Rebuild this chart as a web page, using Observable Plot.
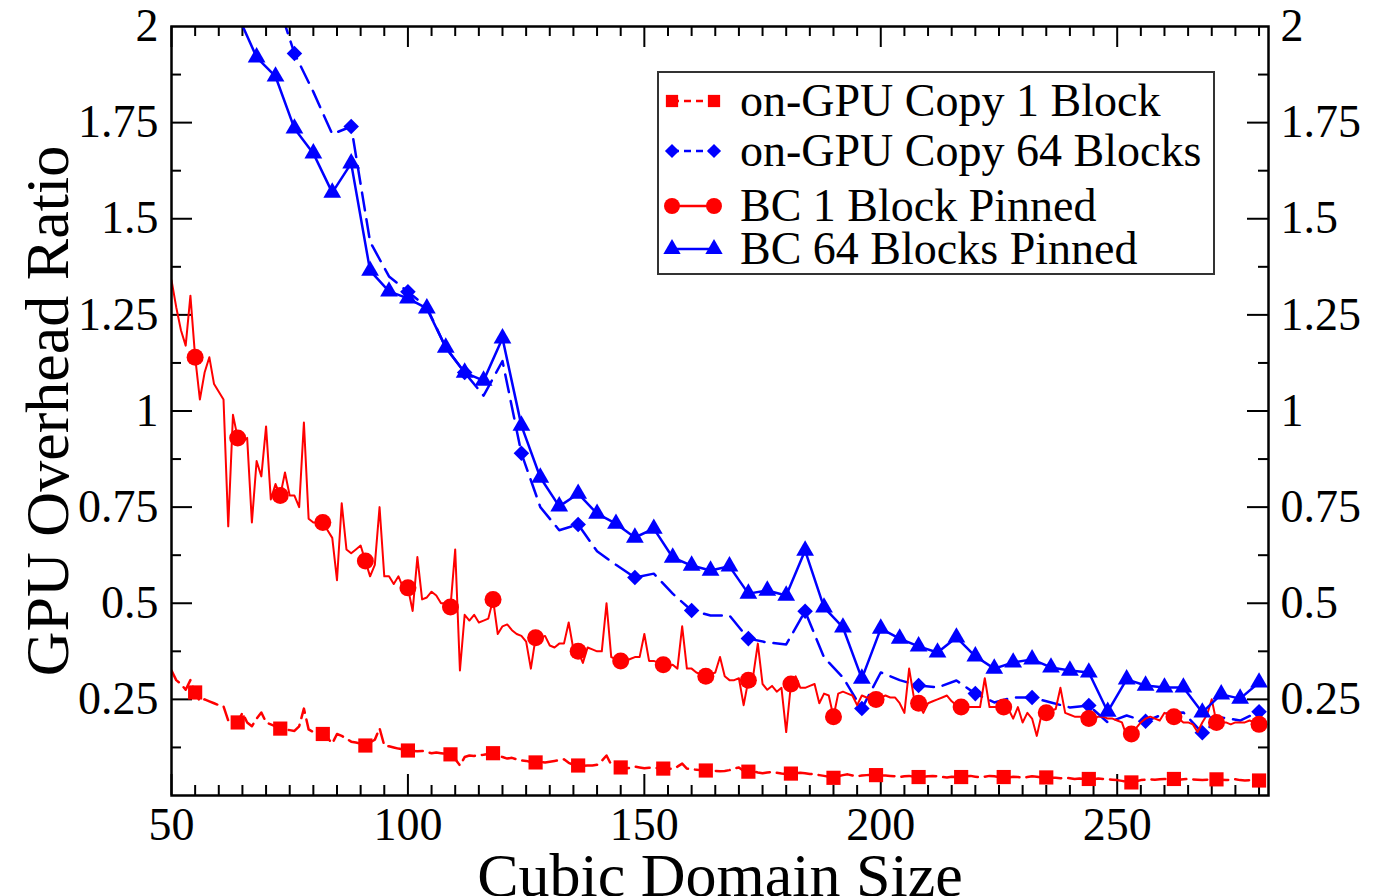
<!DOCTYPE html>
<html>
<head>
<meta charset="utf-8">
<script src="https://cdn.jsdelivr.net/npm/d3@7"></script>
<script src="https://cdn.jsdelivr.net/npm/@observablehq/plot@0.6"></script>
<style>
  html, body { margin: 0; padding: 0; background: #fff; }
  #chart { position: relative; width: 1378px; height: 896px; overflow: hidden; }
  #legend {
    position: absolute; left: 657px; top: 71px; width: 558px; height: 204px;
    box-sizing: border-box; border: 2px solid #333; background: #fff;
    font-family: "Liberation Serif", "DejaVu Serif", serif; font-size: 46px; color: #000;
  }
  #legend .row { position: absolute; left: 0; height: 40px; width: 100%; }
  #legend .row svg { position: absolute; left: 0; top: -5px; }
  #legend .row span { position: absolute; left: 81px; top: 0; white-space: nowrap; line-height: 40px; height: 40px; }
</style>
</head>
<body>
<div id="chart"></div>
<script>
// Cubic domain sizes (edge length) sampled for the single-block runs
const firstSize = 50;
const lastSize = 281;
const denseSizes = d3.range(firstSize, lastSize + 1);

// on-GPU Copy 1 Block: overhead ratio at each domain size 50..281
const copy1Block = [
  0.325, 0.30, 0.29, 0.275, 0.30, 0.268, 0.245, 0.25, 0.245, 0.24,
  0.235, 0.232, 0.195, 0.20, 0.19, 0.215, 0.19, 0.18, 0.20, 0.216,
  0.19, 0.185, 0.18, 0.174, 0.172, 0.17, 0.168, 0.18, 0.226, 0.172,
  0.165, 0.162, 0.16, 0.15, 0.135, 0.16, 0.155, 0.148, 0.14, 0.138,
  0.135, 0.13, 0.138, 0.145, 0.175, 0.13, 0.128, 0.125, 0.122, 0.12,
  0.117, 0.116, 0.115, 0.116, 0.113, 0.11, 0.112, 0.11, 0.108, 0.107,
  0.095, 0.078, 0.10, 0.104, 0.103, 0.105, 0.106, 0.108, 0.11, 0.104,
  0.10, 0.096, 0.098, 0.094, 0.091, 0.09, 0.087, 0.086, 0.087, 0.086,
  0.088, 0.09, 0.092, 0.094, 0.085, 0.08, 0.078, 0.077, 0.078, 0.078,
  0.08, 0.09, 0.104, 0.08, 0.074, 0.073, 0.07, 0.072, 0.075, 0.073,
  0.071, 0.072, 0.072, 0.071, 0.07, 0.07, 0.069, 0.075, 0.083, 0.07,
  0.068, 0.067, 0.066, 0.065, 0.066, 0.064, 0.063, 0.064, 0.066, 0.07,
  0.073, 0.064, 0.062, 0.063, 0.06, 0.058, 0.06, 0.061, 0.059, 0.057,
  0.056, 0.057, 0.058, 0.059, 0.058, 0.056, 0.055, 0.053, 0.051, 0.049,
  0.046, 0.05, 0.053, 0.055, 0.052, 0.05, 0.052, 0.053, 0.054, 0.053,
  0.052, 0.052, 0.051, 0.05, 0.048, 0.05, 0.051, 0.049, 0.048, 0.049,
  0.05, 0.051, 0.05, 0.048, 0.047, 0.049, 0.048, 0.048, 0.05, 0.051,
  0.049, 0.047, 0.049, 0.051, 0.05, 0.048, 0.048, 0.047, 0.049, 0.048,
  0.046, 0.048, 0.05, 0.049, 0.047, 0.047, 0.046, 0.046, 0.045, 0.046,
  0.045, 0.043, 0.044, 0.043, 0.043, 0.042, 0.044, 0.043, 0.042, 0.041,
  0.04, 0.038, 0.036, 0.034, 0.037, 0.04, 0.041, 0.042, 0.041, 0.042,
  0.043, 0.043, 0.043, 0.041, 0.042, 0.043, 0.042, 0.041, 0.04, 0.041,
  0.042, 0.042, 0.041, 0.04, 0.041, 0.042, 0.04, 0.039, 0.04, 0.039,
  0.039, 0.04
];

// BC 1 Block Pinned: overhead ratio at each domain size 50..281
const bc1Block = [
  1.34, 1.27, 1.21, 1.17, 1.30, 1.14, 1.03, 1.10, 1.14, 1.07,
  1.05, 1.03, 0.70, 0.99, 0.93, 0.92, 0.93, 0.71, 0.87, 0.83,
  0.96, 0.77, 0.81, 0.78, 0.84, 0.78, 0.78, 0.75, 0.97, 0.72,
  0.71, 0.71, 0.71, 0.69, 0.67, 0.56, 0.76, 0.64, 0.63, 0.64,
  0.65, 0.61, 0.57, 0.60, 0.75, 0.57, 0.57, 0.55, 0.57, 0.54,
  0.54, 0.48, 0.62, 0.51, 0.515, 0.53, 0.52, 0.50, 0.50, 0.49,
  0.64, 0.325, 0.47, 0.455, 0.47, 0.45, 0.455, 0.46, 0.51, 0.42,
  0.44, 0.445, 0.43, 0.42, 0.415, 0.40, 0.33, 0.41, 0.41, 0.415,
  0.39, 0.385, 0.395, 0.395, 0.45, 0.38, 0.375, 0.345, 0.385, 0.38,
  0.375, 0.375, 0.50, 0.36, 0.355, 0.35, 0.35, 0.355, 0.36, 0.36,
  0.42, 0.35, 0.35, 0.345, 0.34, 0.335, 0.34, 0.33, 0.44, 0.33,
  0.33, 0.32, 0.315, 0.31, 0.315, 0.32, 0.36, 0.31, 0.30, 0.30,
  0.305, 0.235, 0.30, 0.31, 0.395, 0.29, 0.275, 0.285, 0.27, 0.28,
  0.165, 0.29, 0.31, 0.28, 0.28, 0.285, 0.29, 0.24, 0.265, 0.26,
  0.205, 0.265, 0.27, 0.265, 0.26, 0.235, 0.26, 0.255, 0.255, 0.25,
  0.255, 0.26, 0.255, 0.255, 0.24, 0.215, 0.33, 0.255, 0.24, 0.215,
  0.24, 0.245, 0.25, 0.255, 0.26, 0.245, 0.235, 0.23, 0.23, 0.23,
  0.23, 0.23, 0.305, 0.23, 0.23, 0.23, 0.23, 0.225, 0.20, 0.23,
  0.19, 0.215, 0.20, 0.155, 0.21, 0.215, 0.22, 0.225, 0.28, 0.215,
  0.21, 0.205, 0.205, 0.205, 0.20, 0.20, 0.205, 0.205, 0.20, 0.20,
  0.195, 0.19, 0.155, 0.16, 0.175, 0.19, 0.20, 0.205, 0.20, 0.195,
  0.215, 0.21, 0.205, 0.20, 0.19, 0.19, 0.185, 0.165, 0.19, 0.21,
  0.25, 0.19, 0.19, 0.19, 0.185, 0.19, 0.19, 0.19, 0.195, 0.19,
  0.185, 0.19
];

// on-GPU Copy 64 Blocks, measured every 4 sizes from 68
const copy64Sizes = d3.range(68, 281, 4);
const copy64Blocks = [
  2.30, 2.08, 1.93, 1.83, 1.72, 1.74, 1.44, 1.35, 1.31, 1.27,
  1.165, 1.10, 1.04, 1.13, 0.89, 0.75, 0.69, 0.705, 0.635, 0.60,
  0.567, 0.577, 0.525, 0.481, 0.468, 0.468, 0.408, 0.398, 0.393, 0.479,
  0.359, 0.307, 0.226, 0.32, 0.30, 0.286, 0.281, 0.299, 0.265, 0.242,
  0.255, 0.255, 0.242, 0.229, 0.234, 0.19, 0.208, 0.193, 0.213, 0.216,
  0.163, 0.203, 0.195, 0.218
];

// BC 64 Blocks Pinned, measured every 4 sizes from 60
const bc64Sizes = d3.range(60, 281, 4);
const bc64Blocks = [
  2.25, 2.03, 1.92, 1.87, 1.735, 1.67, 1.568, 1.644, 1.365, 1.311,
  1.293, 1.267, 1.165, 1.10, 1.079, 1.189, 0.962, 0.827, 0.752, 0.785,
  0.733, 0.707, 0.671, 0.694, 0.619, 0.598, 0.585, 0.596, 0.525, 0.533,
  0.520, 0.637, 0.489, 0.437, 0.304, 0.434, 0.408, 0.388, 0.372, 0.411,
  0.362, 0.330, 0.346, 0.354, 0.333, 0.325, 0.320, 0.218, 0.302, 0.286,
  0.281, 0.281, 0.216, 0.263, 0.252, 0.294
];

const seriesNames = ["on-GPU Copy 1 Block", "on-GPU Copy 64 Blocks", "BC 1 Block Pinned", "BC 64 Blocks Pinned"];
const xMajorTicks = [50, 100, 150, 200, 250];
const xMinorTicks = d3.range(55, 281, 5).filter(v => v % 50 !== 0);
const yMajorTicks = [0.25, 0.5, 0.75, 1, 1.25, 1.5, 1.75];
const yMinorTicks = [0.125, 0.375, 0.625, 0.875, 1.125, 1.375, 1.625, 1.875];
const yTickLabels = [0.25, 0.5, 0.75, 1, 1.25, 1.5, 1.75, 2];

const RED = "#ff0000", BLUE = "#0000ff";
const SERIF = "'Liberation Serif', 'DejaVu Serif', serif";

const zip = (xs, ys) => xs.map((x, i) => ({x, y: ys[i]}));
const copy1 = zip(denseSizes, copy1Block);
const bc1 = zip(denseSizes, bc1Block);
const copy64 = zip(copy64Sizes, copy64Blocks);
const bc64 = zip(bc64Sizes, bc64Blocks);

// symbols only on every 9th sample for the dense series, every 3rd for copy64
const inView = d => d.y <= 2;
const copy1Marks = copy1.filter(d => (d.x - 55) % 9 === 0 && inView(d));
const bc1Marks = bc1.filter(d => (d.x - 55) % 9 === 0 && inView(d));
const copy64Marks = copy64.filter(d => (d.x - 76) % 12 === 0 && inView(d));
const bc64Marks = bc64.filter(inView);

const W = 1378, H = 896;
const M = {left: 171, right: 110, top: 26, bottom: 101};
const frameW = W - M.left - M.right;
const frameH = H - M.top - M.bottom;

// inward tick marks on all four sides
const xTicks = (values, len) => [
  Plot.tickX(values, {x: d => d, insetTop: frameH - len, stroke: "#000", strokeWidth: 2}),
  Plot.tickX(values, {x: d => d, insetBottom: frameH - len, stroke: "#000", strokeWidth: 2})
];
const yTicks = (values, len) => [
  Plot.tickY(values, {y: d => d, insetRight: frameW - len, stroke: "#000", strokeWidth: 2}),
  Plot.tickY(values, {y: d => d, insetLeft: frameW - len, stroke: "#000", strokeWidth: 2})
];

const chart = Plot.plot({
  width: W,
  height: H,
  marginLeft: M.left,
  marginRight: M.right,
  marginTop: M.top,
  marginBottom: M.bottom,
  x: {domain: [50, 282]},
  y: {domain: [0, 2]},
  style: {fontFamily: SERIF, background: "#fff", color: "#000", overflow: "visible"},
  marks: [
    Plot.axisX({ticks: xMajorTicks, tickSize: 0, tickPadding: 12, fontSize: 46, label: null, tickFormat: d => String(d)}),
    Plot.axisY({anchor: "left", ticks: yTickLabels, tickSize: 0, tickPadding: 13, fontSize: 46, label: null, tickFormat: d => String(d)}),
    Plot.axisY({anchor: "right", ticks: yTickLabels, tickSize: 0, tickPadding: 12, fontSize: 46, label: null, tickFormat: d => String(d)}),
    ...xTicks(xMajorTicks, 21),
    ...xTicks(xMinorTicks, 10),
    ...yTicks(yMajorTicks, 21),
    ...yTicks(yMinorTicks, 10),

    // on-GPU Copy 1 Block
    Plot.line(copy1, {x: "x", y: "y", stroke: RED, strokeWidth: 2.5, strokeDasharray: "14,7", clip: true}),
    Plot.dot(copy1Marks, {x: "x", y: "y", symbol: "square", r: 8, fill: RED, stroke: "none", clip: true}),

    // on-GPU Copy 64 Blocks
    Plot.line(copy64, {x: "x", y: "y", stroke: BLUE, strokeWidth: 2.5, strokeDasharray: "18,9", clip: true}),
    Plot.dot(copy64Marks, {x: "x", y: "y", symbol: "square", rotate: 45, r: 6.2, fill: BLUE, stroke: "none", clip: true}),

    // BC 1 Block Pinned
    Plot.line(bc1, {x: "x", y: "y", stroke: RED, strokeWidth: 2, clip: true}),
    Plot.dot(bc1Marks, {x: "x", y: "y", symbol: "circle", r: 8.5, fill: RED, stroke: "none", clip: true}),

    // BC 64 Blocks Pinned
    Plot.line(bc64, {x: "x", y: "y", stroke: BLUE, strokeWidth: 2.5, clip: true}),
    Plot.dot(bc64Marks, {x: "x", y: "y", symbol: "triangle", r: 6.6, fill: BLUE, stroke: "none", clip: true}),

    Plot.frame({stroke: "#000", strokeWidth: 2.5}),

    Plot.text(["GPU Overhead Ratio"], {frameAnchor: "left", dx: -123, rotate: -90, fontSize: 62, fontFamily: SERIF, fill: "#000", textAnchor: "middle", lineAnchor: "middle"}),
    Plot.text(["Cubic Domain Size"], {frameAnchor: "bottom", dy: 100, fontSize: 62, fontFamily: SERIF, fill: "#000", textAnchor: "middle", lineAnchor: "bottom"})
  ]
});

const root = document.getElementById("chart");
root.appendChild(chart);

// legend box inside the plot area
const legend = document.createElement("div");
legend.id = "legend";
root.appendChild(legend);

const legendStyles = [
  {color: RED, dash: "7,5", symbol: d3.symbolSquare, size: 150, rotate: 0},
  {color: BLUE, dash: "7,5", symbol: d3.symbolSquare, size: 100, rotate: 45},
  {color: RED, dash: null, symbol: d3.symbolCircle, size: 200, rotate: 0},
  {color: BLUE, dash: null, symbol: d3.symbolTriangle, size: 130, rotate: 0}
];
const rowTops = [8, 58, 113, 156];

seriesNames.forEach((name, i) => {
  const st = legendStyles[i];
  const row = document.createElement("div");
  row.className = "row";
  row.style.top = rowTops[i] + "px";
  const svg = d3.select(row).append("svg").attr("width", 80).attr("height", 50);
  const cy = 25;
  svg.append("line").attr("x1", 13).attr("x2", 55).attr("y1", cy).attr("y2", cy)
    .attr("stroke", st.color).attr("stroke-width", 2.5)
    .attr("stroke-dasharray", st.dash);
  [13, 55].forEach(cx => {
    svg.append("path").attr("d", d3.symbol(st.symbol, st.size)())
      .attr("transform", `translate(${cx},${cy}) rotate(${st.rotate})`)
      .attr("fill", st.color);
  });
  const span = document.createElement("span");
  span.textContent = name;
  row.appendChild(span);
  legend.appendChild(row);
});
</script>
</body>
</html>
